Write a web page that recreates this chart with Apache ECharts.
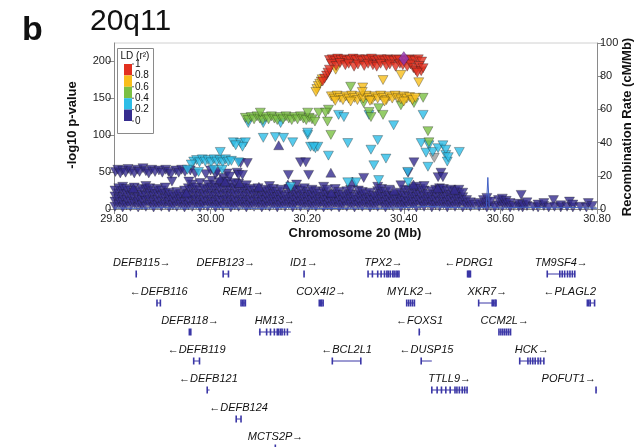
<!DOCTYPE html>
<html><head><meta charset="utf-8">
<script src="https://cdn.jsdelivr.net/npm/echarts@6/dist/echarts.min.js"></script>
<style>html,body{margin:0;padding:0;background:#fff}#c{width:638px;height:447px}</style>
</head><body><div id="c"></div><script>
// ---------------- data ----------------
const xTicks = [29.8, 30.0, 30.2, 30.4, 30.6, 30.8];
const pTicks = [0, 50, 100, 150, 200];
const recTicks = [0, 20, 40, 60, 80, 100];
const ldLabels = ['1', '0.8', '0.6', '0.4', '0.2', '0'];

const leadSnp = [[30.400, 203]];

const ldRed = [
 [30.246,201],[30.252,202],[30.258,200],[30.263,203],[30.27,201],[30.276,202],[30.282,200],[30.289,201],[30.295,203],[30.301,201],
 [30.308,202],[30.314,200],[30.321,202],[30.327,201],[30.333,203],[30.34,200],[30.347,201],[30.353,202],[30.36,200],[30.366,202],
 [30.372,201],[30.379,200],[30.385,202],[30.391,201],[30.404,200],[30.41,202],[30.416,201],[30.423,200],[30.43,202],[30.437,199],
 [30.25,196],[30.26,193],[30.268,197],[30.279,194],[30.286,196],[30.297,192],[30.305,195],[30.318,193],[30.326,196],[30.336,194],
 [30.344,192],[30.352,196],[30.364,193],[30.371,195],[30.383,192],[30.392,196],[30.398,194],[30.407,192],[30.414,195],[30.42,190],
 [30.425,187],[30.432,193],[30.436,186],[30.44,190],[30.428,184],
 [30.236,176],[30.24,180],[30.243,184],[30.246,188],[30.232,172]
];
const ldOrange = [
 [30.25,152],[30.256,149],[30.262,153],[30.268,150],[30.274,147],[30.28,152],[30.286,149],[30.292,153],[30.298,150],[30.304,147],
 [30.31,152],[30.316,149],[30.322,153],[30.328,150],[30.334,147],[30.34,152],[30.346,149],[30.352,153],[30.358,150],[30.364,147],
 [30.37,152],[30.376,149],[30.382,153],[30.388,150],[30.394,148],[30.4,152],[30.406,149],[30.412,151],[30.418,147],[30.424,150],
 [30.258,146],[30.29,145],[30.33,146],[30.36,145],[30.4,145],
 [30.315,164],[30.314,158],[30.357,174],[30.394,181],[30.431,171],[30.259,188],
 [30.22,162],[30.223,166],[30.226,169],[30.229,172],[30.218,158],[30.231,175]
];
const ldGreen = [
 [30.072,123],[30.078,120],[30.084,124],[30.09,121],[30.096,125],[30.102,122],[30.108,120],[30.114,124],[30.12,121],[30.126,125],
 [30.132,122],[30.138,120],[30.144,124],[30.15,121],[30.156,125],[30.162,122],[30.168,120],[30.174,124],[30.18,121],[30.186,125],
 [30.192,122],[30.198,120],[30.204,123],[30.21,121],[30.216,118],
 [30.103,130],[30.201,130],[30.224,130],[30.244,134],[30.238,130],
 [30.29,165],[30.317,143],[30.328,131],[30.332,124],[30.348,136],[30.357,127],[30.394,140],[30.421,143],[30.44,150],[30.45,105],
 [30.242,118],[30.249,100],[30.452,90]
];
const ldCyan = [
 [29.965,64],[29.971,66],[29.977,63],[29.983,67],[29.989,64],[29.995,66],[30.001,63],[30.007,67],[30.013,64],[30.019,66],
 [30.025,63],[30.031,67],[30.037,64],[30.043,65],[29.96,60],[29.952,53],[29.975,50],
 [30.02,77],[30.006,53],[30.024,53],[30.047,90],[30.062,89],[30.072,90],[30.066,84],[30.058,63],[30.052,86],
 [30.078,116],[30.109,116],[30.145,116],[30.109,96],[30.134,97],[30.151,96],[30.17,90],[30.201,100],[30.207,84],[30.217,82],
 [30.222,84],[30.244,72],[30.213,84],[30.166,30],[30.265,127],[30.276,124],[30.379,113],[30.44,127],[30.201,103],[30.284,89],
 [30.332,80],[30.346,93],[30.363,68],[30.338,59],[30.436,89],[30.452,86],[30.446,76],[30.46,77],[30.471,82],[30.487,73],
 [30.49,64],[30.45,57],[30.409,36],[30.348,39],[30.301,36],[30.284,36],[30.481,86],[30.487,80],[30.492,70],[30.515,77],
 [30.408,50],[30.328,127]
];
const ldGrayTri = [[30.463,69]];
const navyBand = [
 [29.803,50],[29.808,53],[29.813,48],[29.818,52],[29.824,49],[29.829,54],[29.835,51],[29.842,48],[29.848,53],[29.853,50],
 [29.86,55],[29.866,51],[29.872,48],[29.878,53],[29.885,50],[29.893,52],[29.9,49],[29.907,53],[29.913,50],[29.918,47],
 [29.928,52],[29.934,49],[29.94,53],[29.947,50],[29.958,52],[29.968,48],[29.99,47],[30.0,52],[30.01,47],[29.92,37],[29.955,37]
];
const navyMid = [
 [30.014,50],[30.034,48],[30.055,49],[30.058,46],[30.062,62],[30.076,62],[30.186,63],[30.161,46],[30.203,46],[30.066,46],
 [30.197,63],[30.317,42],[30.421,63],[30.409,49],[30.477,49],[30.471,43],[30.481,43],[30.394,32],[30.336,199],[30.04,44]
];
const navyUp = [
 [30.141,86],[30.249,49],[30.294,37],[29.84,28],[29.95,22],[30.02,40],[30.03,37],[30.06,35],[30.16,33],[30.25,22],
 [30.42,33],[30.47,28],[30.38,25],[30.10,30],[30.505,26]
];
// dense low -log10 p region: [position, values...]
const navyMassCols = [
 [29.802,[3,10,17,25]],[29.81,[6,13,21,28]],[29.818,[2,9,16,24,30]],[29.826,[5,12,20,27]],[29.834,[3,10,18,25]],
 [29.842,[7,14,22,29]],[29.85,[2,9,16,24]],[29.858,[5,12,19,27]],[29.866,[3,11,18,26,31]],[29.874,[6,13,21,28]],
 [29.882,[2,9,17,24]],[29.89,[5,12,20,27]],[29.898,[3,10,18,25]],[29.906,[6,14,21,29]],[29.914,[2,9,16,22]],
 [29.922,[5,12,19]],[29.93,[3,10,17,23]],[29.938,[6,13,20]],[29.946,[2,9,17,25]],[29.954,[5,12,20,28]],
 [29.962,[3,11,18,26,33]],[29.97,[6,13,21,29]],[29.978,[2,9,17,25,35]],[29.986,[5,12,20,28]],[29.994,[3,10,18,26,33]],
 [30.002,[6,13,21,29,38]],[30.01,[2,9,17,25,32]],[30.018,[5,12,20,28,36]],[30.026,[3,11,18,26,34,42]],[30.034,[6,13,21,29,37]],
 [30.042,[2,9,17,25,33]],[30.05,[5,12,20,28,35]],[30.058,[3,10,18,26,34]],[30.066,[6,13,21,29]],[30.074,[2,9,17,25,32]],
 [30.082,[5,12,20,27]],[30.09,[3,10,18,25]],[30.098,[6,13,21,28]],[30.106,[2,9,16,23]],[30.114,[5,12,19,26]],
 [30.122,[3,10,17,24,31]],[30.13,[6,13,20,27]],[30.138,[2,9,16,23]],[30.146,[5,12,19,26]],[30.154,[3,10,17]],
 [30.162,[6,13,20,27]],[30.17,[2,9,16,24]],[30.178,[5,12,19,26,33]],[30.186,[3,10,17,25]],[30.194,[6,13,20,28]],
 [30.202,[2,9,16,23]],[30.21,[5,12,19,26]],[30.218,[3,10,17,24]],[30.226,[6,13,21]],[30.234,[2,9,16,23,30]],
 [30.242,[5,12,19,26]],[30.25,[3,10,17]],[30.258,[6,13,20,27]],[30.266,[2,9,16,23]],[30.274,[5,12,19]],
 [30.282,[3,10,17,24]],[30.29,[6,13,20,26]],[30.298,[2,9,16]],[30.306,[5,12,19,25]],[30.314,[3,10,17,23]],
 [30.322,[6,13,20]],[30.33,[2,9,15,22]],[30.338,[5,12,18]],[30.346,[3,10,17,24,30]],[30.354,[6,13,20,27]],
 [30.362,[2,9,16,23]],[30.37,[5,12,18,26]],[30.378,[3,10,17]],[30.386,[6,13,20]],[30.394,[2,9,15,22]],
 [30.402,[5,11,18,26]],[30.41,[3,10,17,25]],[30.418,[6,13,20,28]],[30.426,[2,9,16,23,30]],[30.434,[5,12,19,27]],
 [30.442,[3,10,17,25,31]],[30.45,[6,13,20]],[30.458,[2,9,16,24]],[30.466,[5,12,19,26]],[30.474,[3,10,18,25,28]],
 [30.482,[6,13,20,27]],[30.49,[2,9,16,24]],[30.498,[5,12,19,26]],[30.506,[3,10,17,24]],[30.514,[6,13,20,26]],
 [30.522,[2,9,16,22]],[30.53,[5,12]],[30.538,[3,9]],[30.546,[6]],[30.556,[3,8]],[30.565,[5,12]],[30.572,[2,9,15]],
 [30.58,[4,10]],[30.588,[2]],[30.596,[5,12]],[30.604,[3,9,14]],[30.612,[6,11]],[30.62,[2,8]],[30.628,[4]],
 [30.638,[3,7]],[30.643,[19]],[30.646,[2,6]],[30.655,[4,9]],[30.668,[3]],[30.678,[2,6]],[30.69,[4,8]],[30.7,[2]],
 [30.71,[12]],[30.712,[3]],[30.725,[2,5]],[30.738,[3]],[30.743,[10]],[30.75,[2,6]],[30.765,[3]],[30.778,[2]],
 [30.782,[8]],[30.79,[4]]
];
const grayDots = [
 [29.81,1],[29.83,2],[29.85,1],[29.87,3],[29.89,1],[29.91,2],[29.93,2],[29.96,1],[29.99,3],[30.03,1],[30.06,2],[30.09,1],
 [30.12,2],[30.15,1],[30.18,3],[30.2,1],[30.23,2],[30.26,1],[30.28,3],[30.3,2],[30.32,1],[30.35,3],[30.38,1],[30.41,2],
 [30.43,4],[30.45,3],[30.47,2],[30.5,1],[30.52,3],[30.55,1],[30.58,2],[30.6,2],[30.63,1],[30.66,2],[30.68,1],[30.72,1],
 [30.75,2],[30.78,1],[30.795,2]
];
const recombRate = [
 [29.8,0.6],[29.85,0.4],[29.9,0.8],[29.95,0.5],[30.0,1.2],[30.05,0.6],[30.1,0.4],[30.15,0.9],[30.2,0.5],[30.25,0.3],
 [30.3,0.5],[30.35,0.4],[30.4,0.8],[30.45,1.5],[30.5,0.9],[30.55,0.5],[30.571,1],[30.574,19],[30.577,1.2],[30.6,0.6],
 [30.65,1.1],[30.7,0.7],[30.75,0.9],[30.8,0.5]
];

// genes
const geneName = ['DEFB115','DEFB123','ID1','TPX2','PDRG1','TM9SF4','DEFB116','REM1','COX4I2','MYLK2','XKR7','PLAGL2',
  'DEFB118','HM13','FOXS1','CCM2L','DEFB119','BCL2L1','DUSP15','HCK','DEFB121','TTLL9','POFUT1','DEFB124','MCTS2P'];
const geneStrand = [1,1,1,1,-1,1,-1,1,1,1,1,-1,1,1,-1,1,-1,-1,-1,1,-1,1,1,-1,1];
const geneRow = [0,0,0,0,0,0,1,1,1,1,1,1,2,2,2,2,3,3,3,3,4,4,4,5,6];
const geneStart = [29.846,30.026,30.193,30.326,30.532,30.697,29.889,30.063,30.225,30.406,30.555,30.780,
  29.956,30.100,30.432,30.597,29.965,30.252,30.436,30.640,29.993,30.458,30.798,30.053,30.134];
const geneEnd = [29.847,30.037,30.194,30.390,30.538,30.755,29.896,30.072,30.233,30.422,30.591,30.795,
  29.959,30.166,30.433,30.621,29.977,30.311,30.458,30.690,29.998,30.532,30.799,30.063,30.135];
const geneExons = [
 [29.846],[30.026,30.037],[30.1935],
 [30.326,30.335,30.346,30.353,30.360,30.365,30.368,30.372,30.377,30.380,30.384,30.387,30.390],
 [30.532,30.534,30.536,30.538],
 [30.697,30.723,30.728,30.733,30.739,30.744,30.749,30.754],
 [29.889,29.896],[30.063,30.066,30.069,30.072],[30.225,30.228,30.230,30.233],[30.406,30.410,30.414,30.418,30.422],
 [30.555,30.583,30.586,30.589,30.591],[30.780,30.783,30.786,30.795],
 [29.956,29.959],[30.102,30.116,30.124,30.132,30.138,30.141,30.145,30.148,30.153,30.159],[30.432],
 [30.597,30.601,30.605,30.609,30.613,30.617,30.621],
 [29.965,29.977],[30.252,30.311],[30.436],[30.640,30.657,30.662,30.667,30.672,30.678,30.683,30.690],
 [29.993],[30.458,30.469,30.478,30.487,30.496,30.506,30.510,30.515,30.521,30.526,30.531],[30.798],
 [30.053,30.063],[30.134]
];

// -------------- build ---------------
const navyMass = [];
navyMassCols.forEach(c => c[1].forEach(v => navyMass.push([c[0], v])));
const navyDown = navyMass.concat(navyBand, navyMid);

const FONT = '"Liberation Sans", Arial, Helvetica, sans-serif';
const C = {red:'#e2301f', orange:'#f8be1a', green:'#7bc043', cyan:'#2dbde7', navy:'#352c8e', lead:'#9535b4', gray:'#9b9b9b'};
const GENE = '#3a36a6';
const PL = 114, PR = 597, PT = 43, PB = 209;

const mc = document.createElement('canvas').getContext('2d');
function tw(t, f){ mc.font = f; return mc.measureText(t).width; }

function tri(data, color, down){
  return {type:'scatter', xAxisIndex:0, yAxisIndex:0, data, symbol:'triangle', symbolSize:[10,9],
    symbolRotate: down ? 180 : 0, silent:true, animation:false,
    itemStyle:{color, borderColor:'rgba(25,25,25,0.8)', borderWidth:0.5}};
}

const geneData = geneName.map((n,i)=>[geneStart[i], geneEnd[i], geneRow[i], i]);
const GFONT = 'italic 11px ' + FONT;

const chart = echarts.init(document.getElementById('c'));
const axisLine = {show:true, lineStyle:{color:'#8a8a8a', width:1}};
chart.setOption({
  animation:false,
  backgroundColor:'#fff',
  grid:[
    {left:PL, right:638-PR, top:PT, height:PB-PT, containLabel:false},
    {left:PL, right:638-PR, top:263, height:174, containLabel:false}
  ],
  xAxis:[
    {type:'value', gridIndex:0, min:29.8, max:30.8, interval:0.2,
     axisLine, axisTick:{show:true, length:5, lineStyle:{color:'#8a8a8a'}, customValues:xTicks},
     axisLabel:{color:'#222', fontSize:11, fontFamily:FONT, margin:4, customValues:xTicks, formatter:v=>v.toFixed(2)},
     splitLine:{show:false}},
    {type:'value', gridIndex:1, min:29.8, max:30.8, show:false}
  ],
  yAxis:[
    {type:'value', gridIndex:0, min:0, max:224, interval:50, position:'left',
     axisLine, axisTick:{show:true, length:6, lineStyle:{color:'#8a8a8a'}, customValues:pTicks},
     axisLabel:{color:'#222', fontSize:11, fontFamily:FONT, margin:3, customValues:pTicks},
     splitLine:{show:false}},
    {type:'value', gridIndex:0, min:0, max:100, interval:20, position:'right',
     axisLine, axisTick:{show:true, length:6, lineStyle:{color:'#8a8a8a'}, customValues:recTicks},
     axisLabel:{color:'#222', fontSize:11, fontFamily:FONT, margin:3, customValues:recTicks},
     splitLine:{show:false}},
    {type:'value', gridIndex:1, min:0, max:6, inverse:true, show:false}
  ],
  series:[
    tri(navyDown, C.navy, true),
    tri(navyUp, C.navy, false),
    {type:'scatter', xAxisIndex:0, yAxisIndex:0, data:grayDots, symbol:'circle', symbolSize:3,
     itemStyle:{color:C.gray}, silent:true},
    tri(ldGrayTri, C.gray, true),
    tri(ldCyan, C.cyan, true),
    tri(ldGreen, C.green, true),
    tri(ldOrange, C.orange, true),
    tri(ldRed, C.red, true),
    {type:'scatter', xAxisIndex:0, yAxisIndex:0, data:leadSnp, symbol:'diamond', symbolSize:[10,14],
     itemStyle:{color:C.lead, borderColor:'rgba(40,20,60,0.7)', borderWidth:0.5}, silent:true},
    {type:'line', xAxisIndex:0, yAxisIndex:1, data:recombRate, symbol:'none', silent:true,
     lineStyle:{color:'#4160c4', width:1}},
    {type:'custom', xAxisIndex:1, yAxisIndex:2, data:geneData, clip:false, silent:true,
     renderItem:function(params, api){
       const i = api.value(3);
       const p1 = api.coord([api.value(0), api.value(2)]);
       const p2 = api.coord([api.value(1), api.value(2)]);
       const by = p1[1] + 11;
       const kids = [];
       kids.push({type:'line', shape:{x1:p1[0], y1:by, x2:Math.max(p2[0], p1[0]+1), y2:by},
         style:{stroke:GENE, lineWidth:1}});
       geneExons[i].forEach(e => {
         const ex = api.coord([e, api.value(2)])[0];
         kids.push({type:'rect', shape:{x:ex-0.8, y:by-3.5, width:1.6, height:7}, style:{fill:GENE}});
       });
       const txt = geneStrand[i] > 0 ? geneName[i] + '\u2192' : '\u2190' + geneName[i];
       const w = tw(txt, GFONT);
       let cx = (p1[0] + p2[0]) / 2;
       cx = Math.min(Math.max(cx, PL - 1 + w/2), PR - 1 - w/2);
       kids.push({type:'text', style:{text:txt, x:cx, y:p1[1], align:'center', verticalAlign:'middle',
         font:GFONT, fill:'#111'}});
       return {type:'group', children:kids};
     }}
  ],
  graphic:[
    {type:'text', x:22, y:31, style:{text:'b', font:'bold 34px ' + FONT, fill:'#111', verticalAlign:'middle'}},
    {type:'text', x:90, y:22, style:{text:'20q11', font:'30px ' + FONT, fill:'#111', verticalAlign:'middle'}},
    {type:'line', shape:{x1:PL, y1:PT, x2:PR, y2:PT}, style:{stroke:'#d0d0d0', lineWidth:1}},
    {type:'text', x:72, y:125, rotation:Math.PI/2, style:{text:'-log10 p-value', font:'bold 13px ' + FONT,
      fill:'#111', align:'center', verticalAlign:'middle'}},
    {type:'text', x:627, y:127, rotation:Math.PI/2, style:{text:'Recombination Rate (cM/Mb)', font:'bold 13px ' + FONT,
      fill:'#111', align:'center', verticalAlign:'middle'}},
    {type:'text', x:355, y:233, style:{text:'Chromosome 20 (Mb)', font:'bold 13px ' + FONT,
      fill:'#111', align:'center', verticalAlign:'middle'}},
    {type:'group', z:100, children:[
      {type:'rect', shape:{x:117.5, y:48.5, width:36, height:85}, style:{fill:'#fff', stroke:'#8a8a8a', lineWidth:1}},
      {type:'text', x:135, y:56, style:{text:'LD (r\u00b2)', font:'10px ' + FONT, fill:'#111', align:'center', verticalAlign:'middle'}},
      ...[C.red, C.orange, C.green, C.cyan, C.navy].map((c,k)=>({type:'rect',
        shape:{x:124, y:64 + k*11.4, width:8, height:11.4}, style:{fill:c}})),
      ...ldLabels.map((t,k)=>({type:'text', x:135, y:64 + k*11.4,
        style:{text:t, font:'10px ' + FONT, fill:'#111', align:'left', verticalAlign:'middle'}})),
      ...ldLabels.map((t,k)=>({type:'line', shape:{x1:132, y1:64 + k*11.4, x2:134, y2:64 + k*11.4},
        style:{stroke:'#333', lineWidth:0.8}}))
    ]}
  ]
});
</script></body></html>
